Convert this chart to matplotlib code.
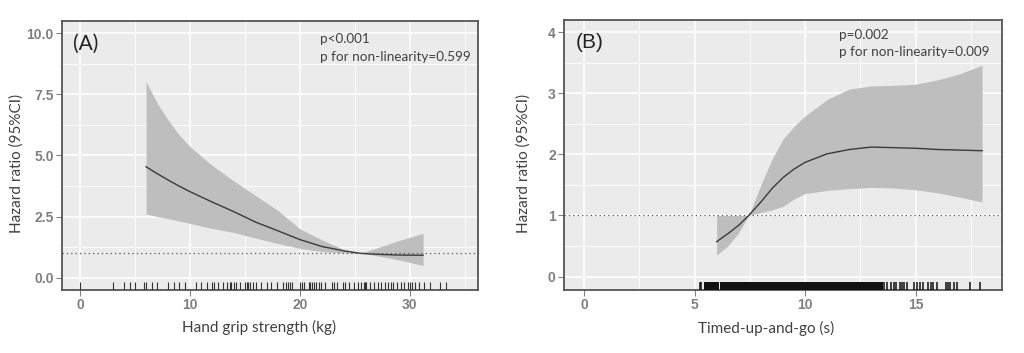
import matplotlib
matplotlib.use("Agg")
import matplotlib.pyplot as plt
from matplotlib.ticker import MultipleLocator, FormatStrFormatter

# ---- panel A: hand grip strength ----
grip_x = [6, 7, 8, 9, 10, 12, 14, 16, 18, 20, 22, 24, 25.5, 27, 29, 31.2]
grip_hr = [4.54, 4.26, 4.0, 3.75, 3.52, 3.1, 2.7, 2.27, 1.92, 1.56, 1.28, 1.1, 1.0, 0.96, 0.93, 0.92]
grip_hi = [8.02, 7.15, 6.45, 5.85, 5.36, 4.6, 3.95, 3.35, 2.75, 2.0, 1.55, 1.15, 1.0, 1.22, 1.52, 1.82]
grip_lo = [2.61, 2.51, 2.42, 2.32, 2.22, 2.02, 1.85, 1.62, 1.4, 1.2, 1.07, 1.02, 1.0, 0.9, 0.73, 0.5]
grip_rug = [0, 3, 4, 4.5, 5, 5.8, 6, 6.5, 7, 8, 8.5, 9, 9.5, 10.5, 11, 11.5, 12, 12.2,
            12.5, 13, 13.4, 13.6, 13.7, 14, 14.2, 14.5, 15, 15.2, 15.3, 15.5, 15.7, 16,
            16.5, 17, 17.4, 17.9, 18.5, 18.7, 18.9, 19.1, 19.3, 20, 20.2, 20.4, 20.8,
            20.9, 21.1, 21.3, 21.5, 21.7, 21.9, 22.3, 22.9, 23.1, 23.4, 23.9, 24.1,
            24.5, 24.9, 25.3, 25.6, 25.8, 25.9, 26, 26.4, 26.7, 27.1, 27.4, 27.7, 28,
            28.3, 28.5, 28.8, 29.2, 29.5, 29.8, 30, 30.2, 30.5, 30.8, 31.3, 31.8, 32.7, 33.3]

# ---- panel B: timed-up-and-go ----
tug_x = [6, 6.5, 7, 7.45, 8, 8.5, 9, 9.5, 10, 11, 12, 13, 14, 15, 16, 17, 18]
tug_hr = [0.57, 0.7, 0.84, 1.0, 1.22, 1.44, 1.62, 1.76, 1.87, 2.01, 2.08, 2.12, 2.11, 2.1, 2.08, 2.07, 2.06]
tug_hi = [1.0, 1.0, 1.0, 1.0, 1.5, 1.92, 2.25, 2.46, 2.63, 2.9, 3.07, 3.12, 3.13, 3.15, 3.22, 3.32, 3.46]
tug_lo = [0.35, 0.5, 0.72, 1.0, 1.05, 1.09, 1.15, 1.27, 1.36, 1.41, 1.44, 1.46, 1.45, 1.42, 1.37, 1.3, 1.22]
tug_rug = [5.23, 5.31, 5.46, 5.57, 5.61, 5.65, 5.7, 5.75, 5.8, 5.84, 5.99,
           6.3, 6.4, 6.5, 6.6, 6.7, 6.8, 6.9, 7.0, 7.1, 7.2, 7.3, 7.4, 7.5, 7.6, 7.7,
           7.8, 7.9, 8.0, 8.1, 8.2, 8.3, 8.4, 8.5, 8.6, 8.7, 8.8, 8.9, 9.0, 9.1, 9.2,
           9.3, 9.4, 9.5, 9.6, 9.7, 9.8, 9.9, 10.0, 10.1, 10.2, 10.3, 10.4, 10.5, 10.6,
           10.7, 10.8, 10.9, 11.0, 11.1, 11.2, 11.3, 11.4, 11.5, 11.6, 11.7, 11.8, 11.9,
           12.0, 12.1, 12.2, 12.3, 12.4, 12.6, 12.7, 12.8, 12.9, 13.0, 13.1, 13.2, 13.3, 13.4,
           13.56, 13.71, 13.86, 14.0, 14.13, 14.28, 14.39, 14.49, 14.61,
           14.92, 15.04, 15.19, 15.34, 15.56, 15.67, 15.79, 15.94,
           16.35, 16.45, 16.57, 16.72, 16.87, 17.45, 17.9]

bg = "#EBEBEB"
tick_col = "#808080"
title_font = "Lato"

fig = plt.figure(figsize=(10.24, 3.53), dpi=100)
fig.patch.set_facecolor("white")


def style_axes(ax, xmaj, xmin, ymaj, ymin):
    ax.set_facecolor(bg)
    ax.xaxis.set_major_locator(MultipleLocator(xmaj))
    ax.xaxis.set_minor_locator(MultipleLocator(xmin))
    ax.yaxis.set_major_locator(MultipleLocator(ymaj))
    ax.yaxis.set_minor_locator(MultipleLocator(ymin))
    ax.grid(which="major", color="white", linewidth=1.1)
    ax.grid(which="minor", color="white", linewidth=0.6)
    ax.set_axisbelow(True)
    for s in ax.spines.values():
        s.set_color("#555555")
        s.set_linewidth(1.3)
    ax.tick_params(which="major", length=4, width=0.8, color=tick_col,
                   labelcolor=tick_col, labelsize=10, pad=2)
    ax.tick_params(which="minor", length=0)
    for lab in ax.get_xticklabels() + ax.get_yticklabels():
        lab.set_fontfamily("Liberation Sans")
        lab.set_fontweight("bold")
    ax.xaxis.label.set_va("center")
    ax.yaxis.label.set_va("center")


def draw_panel(ax, x, hr, lo, hi, rug, rug_col, rug_lw, dense=None):
    ax.fill_between(x, lo, hi, color="#BEBEBE", linewidth=0, zorder=2)
    ax.plot(x, hr, color="#3A3A3A", linewidth=1.0, zorder=3)
    ax.axhline(1, color="#555555", linewidth=0.9, linestyle=(0, (1, 2.5)), zorder=4)
    trans = ax.get_xaxis_transform()
    if dense is None:
        ax.vlines(rug, 0, 0.03, transform=trans, color=rug_col, linewidth=rug_lw, zorder=5)
    else:
        # the tightly packed part of the rug is drawn wider so it reads as a solid band
        packed = [v for v in rug if dense[0] <= v <= dense[1]]
        loose = [v for v in rug if v < dense[0] or v > dense[1]]
        ax.vlines(packed, 0, 0.03, transform=trans, color=rug_col, linewidth=3.2,
                  antialiased=False, zorder=5)
        ax.vlines(loose, 0, 0.03, transform=trans, color=rug_col, linewidth=rug_lw, zorder=5)


# panel A
axA = fig.add_axes([62 / 1024, 1 - 290 / 353, 416 / 1024, 269 / 353])
draw_panel(axA, grip_x, grip_hr, grip_lo, grip_hi, grip_rug, "#333333", 0.8)
axA.set_xlim(-1.65, 36.2)
axA.set_ylim(-0.5, 10.5)
axA.yaxis.set_major_formatter(FormatStrFormatter("%.1f"))
axA.set_xlabel("Hand grip strength (kg)", fontsize=11, family=title_font, color="#404040")
axA.set_ylabel("Hazard ratio (95%CI)", fontsize=11, family=title_font, color="#404040")
style_axes(axA, 10, 5, 2.5, 1.25)
axA.xaxis.set_label_coords(0.473, -0.141)
axA.yaxis.set_label_coords(-0.109, 0.47)
axA.text(0.026, 0.914, "(A)", transform=axA.transAxes, fontsize=15,
         family=title_font, color="#222222", va="center", ha="left")
axA.text(0.619, 0.933, "p<0.001", transform=axA.transAxes, fontsize=9.7,
         family=title_font, color="#404040", va="center", ha="left")
axA.text(0.619, 0.866, "p for non-linearity=0.599", transform=axA.transAxes, fontsize=9.7,
         family=title_font, color="#404040", va="center", ha="left")

# panel B
axB = fig.add_axes([564 / 1024, 1 - 290 / 353, 438 / 1024, 270 / 353])
draw_panel(axB, tug_x, tug_hr, tug_lo, tug_hi, tug_rug, "#111111", 1.1, dense=(5.55, 13.45))
axB.set_xlim(-0.9, 18.9)
axB.set_ylim(-0.22, 4.2)
axB.set_xlabel("Timed-up-and-go (s)", fontsize=11, family=title_font, color="#404040")
axB.set_ylabel("Hazard ratio (95%CI)", fontsize=11, family=title_font, color="#404040")
style_axes(axB, 5, 2.5, 1, 0.5)
axB.xaxis.set_label_coords(0.461, -0.141)
axB.yaxis.set_label_coords(-0.092, 0.47)
axB.text(0.026, 0.917, "(B)", transform=axB.transAxes, fontsize=15,
         family="Liberation Sans", color="#222222", va="center", ha="left")
axB.text(0.627, 0.945, "p=0.002", transform=axB.transAxes, fontsize=9.7,
         family=title_font, color="#404040", va="center", ha="left")
axB.text(0.627, 0.880, "p for non-linearity=0.009", transform=axB.transAxes, fontsize=9.7,
         family=title_font, color="#404040", va="center", ha="left")

fig.savefig("out.png", dpi=100)
